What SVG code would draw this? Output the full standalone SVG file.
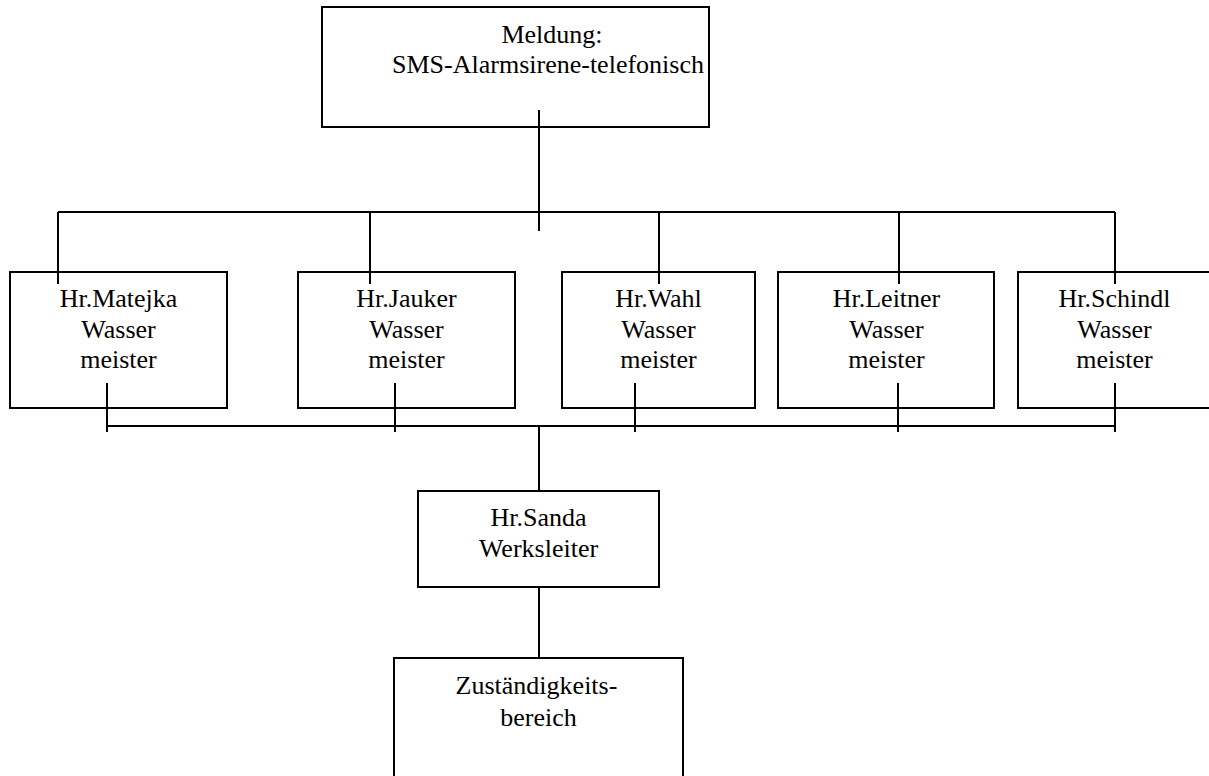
<svg xmlns="http://www.w3.org/2000/svg" width="1209" height="776" viewBox="0 0 1209 776">
<style>
.box{fill:#fff;stroke:#000;stroke-width:2}
.t{font-family:"Liberation Serif","Times New Roman",serif;font-size:26px;fill:#000;text-anchor:middle}
.c{stroke:#000;stroke-width:2;fill:none}
</style>
<rect width="1209" height="776" fill="#fff"/>
<g id="n-meldung">
<rect class="box" x="322" y="7" width="387" height="120"/>
<text class="t" x="552" y="43">Meldung:</text>
<text class="t" x="548" y="73">SMS-Alarmsirene-telefonisch</text>
</g>
<g id="n-matejka">
<rect class="box" x="10" y="272" width="217" height="136"/>
<text class="t" x="118.5" y="307">Hr.Matejka</text>
<text class="t" x="118.5" y="338">Wasser</text>
<text class="t" x="118.5" y="368">meister</text>
</g>
<g id="n-jauker">
<rect class="box" x="298" y="272" width="217" height="136"/>
<text class="t" x="406.5" y="307">Hr.Jauker</text>
<text class="t" x="406.5" y="338">Wasser</text>
<text class="t" x="406.5" y="368">meister</text>
</g>
<g id="n-wahl">
<rect class="box" x="562" y="272" width="193" height="136"/>
<text class="t" x="658.5" y="307">Hr.Wahl</text>
<text class="t" x="658.5" y="338">Wasser</text>
<text class="t" x="658.5" y="368">meister</text>
</g>
<g id="n-leitner">
<rect class="box" x="778" y="272" width="216" height="136"/>
<text class="t" x="886.5" y="307">Hr.Leitner</text>
<text class="t" x="886.5" y="338">Wasser</text>
<text class="t" x="886.5" y="368">meister</text>
</g>
<g id="n-schindl">
<rect class="box" x="1018" y="272" width="196" height="136"/>
<text class="t" x="1114.5" y="307">Hr.Schindl</text>
<text class="t" x="1114.5" y="338">Wasser</text>
<text class="t" x="1114.5" y="368">meister</text>
</g>
<g id="n-sanda">
<rect class="box" x="418" y="491" width="241" height="96"/>
<text class="t" x="538.5" y="526">Hr.Sanda</text>
<text class="t" x="538.5" y="557">Werksleiter</text>
</g>
<g id="n-zust">
<rect class="box" x="394" y="658" width="289" height="140"/>
<text class="t" x="536.5" y="694">Zuständigkeits-</text>
<text class="t" x="538.5" y="726">bereich</text>
</g>
<g id="connectors">
<path class="c" d="M539 110V231"/>
<path class="c" d="M58 212H1115"/>
<path class="c" d="M58 212V284M370 212V284M659 212V284M899 212V284M1115 212V284"/>
<path class="c" d="M107 426H1115"/>
<path class="c" d="M107 383V432M395 383V432M635 383V432M898 383V432M1115 383V432"/>
<path class="c" d="M539 426V491M539 587V658"/>
</g>
</svg>
